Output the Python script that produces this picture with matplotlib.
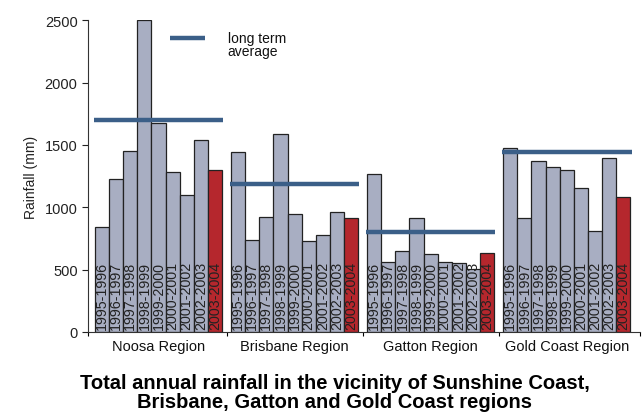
import matplotlib
matplotlib.use("Agg")
import matplotlib.pyplot as plt

regions = ["Noosa Region", "Brisbane Region", "Gatton Region", "Gold Coast Region"]
seasons = ["1995-1996", "1996-1997", "1997-1998", "1998-1999", "1999-2000",
           "2000-2001", "2001-2002", "2002-2003", "2003-2004"]
noosa = [845, 1224, 1449, 2500, 1673, 1283, 1096, 1537, 1297]
brisbane = [1441, 735, 922, 1590, 949, 727, 780, 960, 917]
gatton = [1267, 564, 647, 914, 623, 562, 551, 505, 633]
gold_coast = [1473, 912, 1374, 1320, 1299, 1157, 807, 1393, 1083]
long_term_avg = [1700, 1189, 800, 1443]
series = [noosa, brisbane, gatton, gold_coast]

plt.rcParams['font.family'] = ['Liberation Sans', 'DejaVu Sans']

fig = plt.figure(figsize=(6.44, 4.14), dpi=100)
ax = fig.add_axes([88/644, 1-333/414, (640-88)/644, (333-21.3)/414])

stride = 9.65
grey = "#a8aec2"
red = "#b5272d"
avg_col = "#3b5f88"

for g, vals in enumerate(series):
    for i, v in enumerate(vals):
        x = g*stride + i
        col = red if i == len(vals)-1 else grey
        ax.bar(x, v, width=1.0, color=col, edgecolor="#222222", linewidth=0.9, zorder=2)
        ax.text(x, 25, seasons[i], rotation=90, ha="center", va="bottom",
                fontsize=10.3, color="#222222", zorder=3)
    ax.hlines(long_term_avg[g], g*stride-0.6, g*stride+8.6, color=avg_col,
              linewidth=3.2, zorder=4)

# legend
ax.hlines(2358, 4.8, 7.3, color=avg_col, linewidth=3.2, clip_on=False)
ax.text(8.9, 2415, "long term\naverage", fontsize=10, va="top", ha="left",
        linespacing=0.95, color="#111111")

ax.set_xlim(-1.0, 38.15)
ax.set_ylim(0, 2500)
ax.set_yticks([0, 500, 1000, 1500, 2000, 2500])
ax.tick_params(axis="y", labelsize=10.5, length=4, width=0.8, colors="#222222")
ax.set_ylabel("Rainfall (mm)", fontsize=10, color="#222222", labelpad=5)

centers = [g*stride + 4 for g in range(4)]
ax.set_xticks(centers)
ax.set_xticklabels(regions, fontsize=10.5, color="#111111")
ax.tick_params(axis="x", length=0, pad=5)
bounds = [-1.0] + [g*stride - 0.825 for g in range(1, 4)] + [38.15]
ax.set_xticks(bounds, minor=True)
ax.tick_params(axis="x", which="minor", length=3, width=0.8)

for s in ["top", "right"]:
    ax.spines[s].set_visible(False)
for s in ["left", "bottom"]:
    ax.spines[s].set_color("#333333")
    ax.spines[s].set_linewidth(0.8)

fig.text(0.52, 1-393/414, "Total annual rainfall in the vicinity of Sunshine Coast,\nBrisbane, Gatton and Gold Coast regions",
         ha="center", va="center", fontsize=14.5, fontweight="bold", linespacing=1.05,
         family=["Liberation Sans Narrow", "Liberation Sans", "DejaVu Sans"])

fig.savefig("out.png", dpi=100)
